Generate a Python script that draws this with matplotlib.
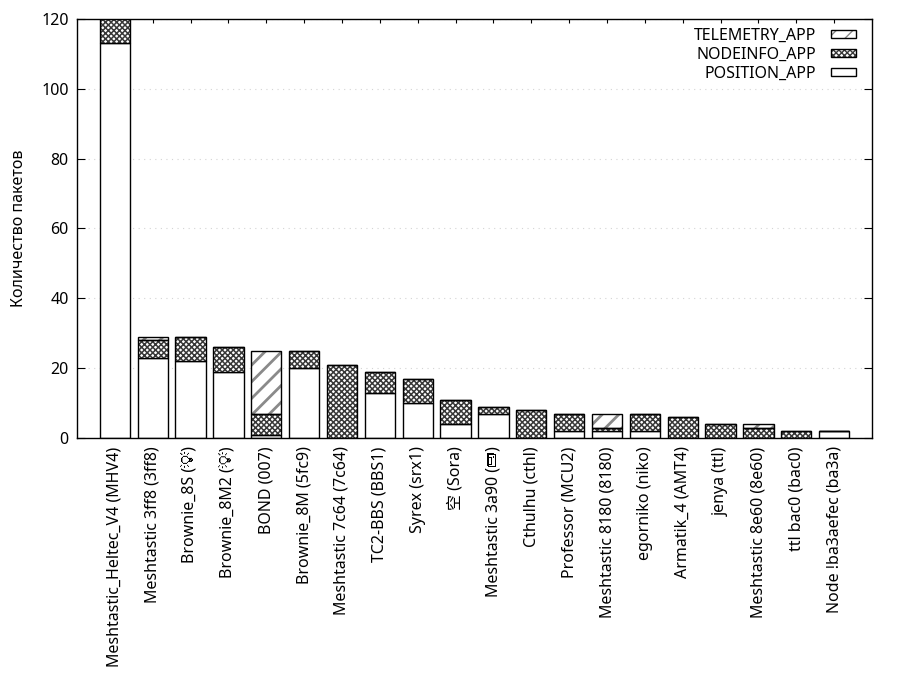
import numpy as np
import matplotlib
matplotlib.use("Agg")
import matplotlib.pyplot as plt
from matplotlib import font_manager
from matplotlib.ft2font import FT2Font
from matplotlib.patches import Patch

names = [
    "Meshtastic_Heltec_V4 (MHV4)",
    "Meshtastic 3ff8 (3ff8)",
    "Brownie_8S (\U0001F4A1)",
    "Brownie_8M2 (\U0001F4A1)",
    "BOND (007)",
    "Brownie_8M (5fc9)",
    "Meshtastic 7c64 (7c64)",
    "TC2-BBS (BBS1)",
    "Syrex (srx1)",
    "空 (Sora)",
    "Meshtastic 3a90 (\U0001F4DF)",
    "Cthulhu (cthl)",
    "Professor (MCU2)",
    "Meshtastic 8180 (8180)",
    "egorniko (niko)",
    "Armatik_4 (AMT4)",
    "jenya (ttl)",
    "Meshtastic 8e60 (8e60)",
    "ttl bac0 (bac0)",
    "Node !ba3aefec (ba3a)",
]
position = [113, 23, 22, 19, 1, 20, 0, 13, 10, 4, 7, 0, 2, 2, 2, 0, 0, 0, 0, 2]
nodeinfo = [9, 5, 7, 7, 6, 5, 21, 6, 7, 7, 2, 8, 5, 1, 5, 6, 4, 3, 2, 0]
telemetry = [0, 1, 0, 0, 18, 0, 0, 0, 0, 0, 0, 0, 0, 4, 0, 0, 0, 1, 0, 0]

NODE_HATCH = "#383838"
TELE_HATCH = "#8a8a8a"


def fonts_with(chars):
    # look for installed (non colour) fonts that carry these glyphs
    found = []
    for entry in font_manager.fontManager.ttflist:
        if "Color" in entry.name or entry.name in found:
            continue
        try:
            cmap = FT2Font(entry.fname).get_charmap()
        except Exception:
            continue
        if any(ord(c) in cmap for c in chars):
            found.append(entry.name)
    return found


def hatch_width(patches, lw):
    for p in patches:
        if hasattr(p, "set_hatch_linewidth"):
            p.set_hatch_linewidth(lw)


emoji_fonts = fonts_with("\U0001F4A1\U0001F4DF")
plt.rcParams["font.family"] = ["Noto Sans", "Noto Sans CJK SC"] + emoji_fonts + ["DejaVu Sans"]
plt.rcParams["font.size"] = 11.5

fig = plt.figure(figsize=(9, 7), dpi=100)
ax = fig.add_axes([77 / 900, 1 - 438 / 700, 795 / 900, 419 / 700])

x = np.arange(len(names))
width = 0.8
pos = np.array(position)
node = np.array(nodeinfo)
tele = np.array(telemetry)

ax.bar(x, pos, width, color="white", edgecolor="black", linewidth=1, zorder=2)
node_bars = ax.bar(x, node, width, bottom=pos, color="white", edgecolor=NODE_HATCH,
                   hatch="xxxxxx", linewidth=0, zorder=2)
hatch_width(node_bars, 1.1)
ax.bar(x, node, width, bottom=pos, fill=False, edgecolor="black", linewidth=1, zorder=3)
tele_bars = ax.bar(x, tele, width, bottom=pos + node, color="white", edgecolor=TELE_HATCH,
                   hatch="//", linewidth=0, zorder=2)
hatch_width(tele_bars, 2.0)
ax.bar(x, tele, width, bottom=pos + node, fill=False, edgecolor="black", linewidth=1, zorder=3)

ax.set_xlim(-1, len(names))
ax.set_ylim(0, 120)
ax.set_yticks(range(0, 121, 20))
ax.set_xticks(x)
ax.set_xticklabels(names, rotation=90)
ax.tick_params(axis="y", direction="in", length=6, right=True, pad=6)
ax.tick_params(axis="x", direction="in", length=3, top=True, pad=6)
ax.grid(axis="y", linestyle=(0, (1, 4)), color="#d4d4d4", linewidth=0.8, zorder=0)
ax.set_axisbelow(True)
for s in ax.spines.values():
    s.set_linewidth(1)
    s.set_zorder(4)
ax.set_ylabel("Количество пакетов", labelpad=10)

h_tele = (Patch(facecolor="white", edgecolor=TELE_HATCH, hatch="//", linewidth=0),
          Patch(fill=False, edgecolor="black", linewidth=1))
h_node = (Patch(facecolor="white", edgecolor=NODE_HATCH, hatch="xxxxxx", linewidth=0),
          Patch(fill=False, edgecolor="black", linewidth=1))
h_pos = Patch(facecolor="white", edgecolor="black", linewidth=1)
hatch_width([h_tele[0]], 2.0)
hatch_width([h_node[0]], 1.1)
ax.legend([h_tele, h_node, h_pos], ["TELEMETRY_APP", "NODEINFO_APP", "POSITION_APP"],
          loc="upper right", bbox_to_anchor=(0.988, 0.995), frameon=False,
          markerfirst=False, handlelength=1.6, handleheight=0.4,
          handletextpad=0.9, labelspacing=0.2, borderaxespad=0)

fig.savefig("out.png", dpi=100)
